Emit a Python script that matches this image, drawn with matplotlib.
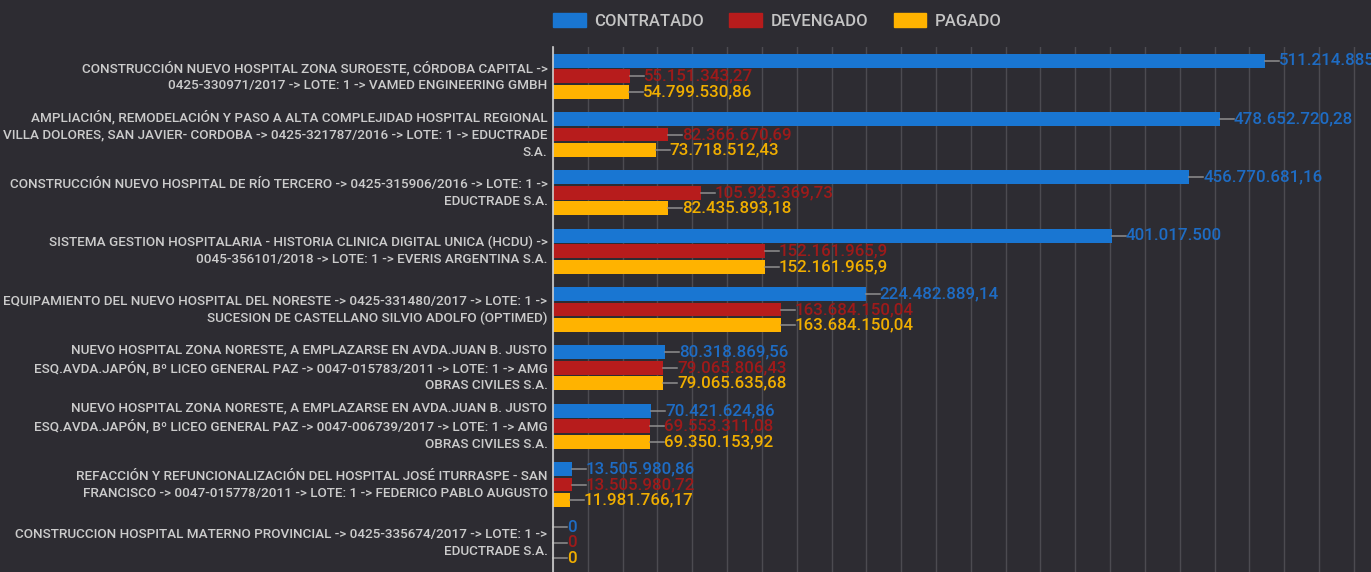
import matplotlib
matplotlib.use("Agg")
import matplotlib.pyplot as plt
from matplotlib.patches import Patch

categories = [
    "CONSTRUCCIÓN NUEVO HOSPITAL ZONA SUROESTE, CÓRDOBA CAPITAL ->\n0425-330971/2017 -> LOTE: 1 -> VAMED ENGINEERING GMBH",
    "AMPLIACIÓN, REMODELACIÓN Y PASO A ALTA COMPLEJIDAD HOSPITAL REGIONAL\nVILLA DOLORES, SAN JAVIER- CORDOBA -> 0425-321787/2016 -> LOTE: 1 -> EDUCTRADE\nS.A.",
    "CONSTRUCCIÓN NUEVO HOSPITAL DE RÍO TERCERO -> 0425-315906/2016 -> LOTE: 1 ->\nEDUCTRADE S.A.",
    "SISTEMA GESTION HOSPITALARIA - HISTORIA CLINICA DIGITAL UNICA (HCDU) ->\n0045-356101/2018 -> LOTE: 1 -> EVERIS ARGENTINA S.A.",
    "EQUIPAMIENTO DEL NUEVO HOSPITAL DEL NORESTE -> 0425-331480/2017 -> LOTE: 1 ->\nSUCESION DE CASTELLANO SILVIO ADOLFO (OPTIMED)",
    "NUEVO HOSPITAL ZONA NORESTE, A EMPLAZARSE EN AVDA.JUAN B. JUSTO\nESQ.AVDA.JAPÓN, Bº LICEO GENERAL PAZ -> 0047-015783/2011 -> LOTE: 1 -> AMG\nOBRAS CIVILES S.A.",
    "NUEVO HOSPITAL ZONA NORESTE, A EMPLAZARSE EN AVDA.JUAN B. JUSTO\nESQ.AVDA.JAPÓN, Bº LICEO GENERAL PAZ -> 0047-006739/2017 -> LOTE: 1 -> AMG\nOBRAS CIVILES S.A.",
    "REFACCIÓN Y REFUNCIONALIZACIÓN DEL HOSPITAL JOSÉ ITURRASPE - SAN\nFRANCISCO -> 0047-015778/2011 -> LOTE: 1 -> FEDERICO PABLO AUGUSTO",
    "CONSTRUCCION HOSPITAL MATERNO PROVINCIAL -> 0425-335674/2017 -> LOTE: 1 ->\nEDUCTRADE S.A.",
]

series_names = ["CONTRATADO", "DEVENGADO", "PAGADO"]
contratado = [511214885.0, 478652720.28, 456770681.16, 401017500.0, 224482889.14,
              80318869.56, 70421624.86, 13505980.86, 0]
devengado = [55151343.27, 82366670.69, 105925369.73, 152161965.9, 163684150.04,
             79065806.43, 69553311.08, 13505980.72, 0]
pagado = [54799530.86, 73718512.43, 82435893.18, 152161965.9, 163684150.04,
          79065635.68, 69350153.92, 11981766.17, 0]

bar_colors = ["#1976D2", "#B71C1C", "#FFB300"]
text_colors = ["#1E6CC4", "#9E1A1A", "#F0AE00"]
BG = "#2D2C32"


def fmt(v):
    s = f"{v:,.2f}"
    ip, dp = s.split(".")
    ip = ip.replace(",", ".")
    dp = dp.rstrip("0")
    return ip + ("," + dp if dp else "")


plt.rcParams['font.family'] = ['Roboto', 'DejaVu Sans']

W, H = 1371, 572
fig = plt.figure(figsize=(W / 100, H / 100), dpi=100, facecolor=BG)
ax = fig.add_axes([553 / W, 0.0, 1 - 553 / W, 1 - 47 / H])
ax.set_facecolor(BG)

xmax = 511214885.0 * 818 / 712
ax.set_xlim(0, xmax)
n = len(categories)
ax.set_ylim(n - 0.5, -0.5)

off = 15.5 / 58.5
h = 14 / 58.5
series = [contratado, devengado, pagado]
px_per_unit = 818 / xmax
lead = 14 / px_per_unit

for k, vals in enumerate(series):
    ys = [i + (k - 1) * off for i in range(n)]
    ax.barh(ys, vals, height=h, color=bar_colors[k], zorder=3, label=series_names[k])
    for y, v in zip(ys, vals):
        ax.plot([v, v + lead], [y, y], color="#8f8f8f", lw=1.1, zorder=3, clip_on=False)
        ax.text(v + lead, y, fmt(v), color=text_colors[k], fontsize=12.2,
                fontweight="medium", va="center", ha="left", zorder=4, clip_on=False)

ax.set_xticks([i * 25e6 for i in range(0, 24)])
ax.xaxis.grid(True, color="#4c4b51", lw=1, zorder=0)
ax.tick_params(axis="x", length=0, labelbottom=False)
ax.set_yticks(range(n))
ax.set_yticklabels(categories, fontsize=9.7, color="#cccccc", linespacing=1.4,
                   fontweight="medium")
ax.tick_params(axis="y", length=0, pad=4)
for t in ax.get_yticklabels():
    t.set_verticalalignment("center")
for s in ["top", "right", "bottom"]:
    ax.spines[s].set_visible(False)
ax.spines["left"].set_color("#d0d0d0")
ax.spines["left"].set_linewidth(1.2)
ax.spines["left"].set_zorder(5)

handles = [Patch(facecolor=c, edgecolor=c) for c in bar_colors]
leg = fig.legend(handles, series_names, loc="upper left",
                 bbox_to_anchor=(553 / W, 1 - 13 / H), ncol=3, frameon=False,
                 fontsize=12.0, handlelength=1.95, handleheight=0.95,
                 columnspacing=1.55, handletextpad=0.5, borderpad=0,
                 borderaxespad=0)
for t in leg.get_texts():
    t.set_color("#c4c4c4")
    t.set_fontweight("medium")

fig.savefig("out.png", dpi=100, facecolor=BG)
